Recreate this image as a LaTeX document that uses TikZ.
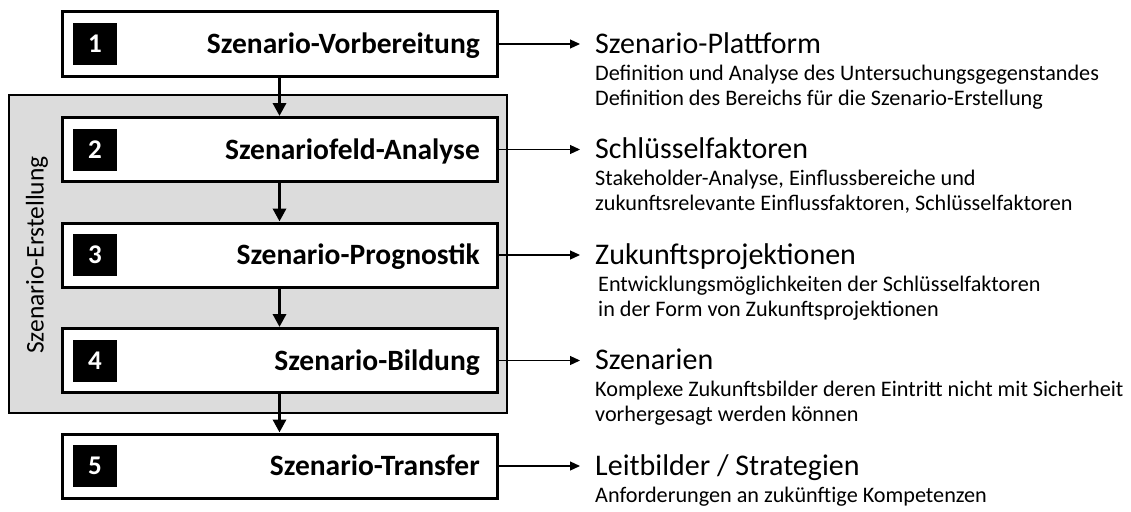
\documentclass[tikz,border=0pt]{standalone}
\usepackage{fontspec}
\setmainfont{Carlito}
\usetikzlibrary{arrows.meta}
\definecolor{panelgray}{HTML}{DCDCDC}
\tikzset{
  x=1pt, y=-1pt,
  stepbox/.style={draw=black, line width=3pt, fill=white, minimum width=435pt, minimum height=64pt, inner sep=0pt},
  numbox/.style={fill=black, text=white, minimum width=44pt, minimum height=42pt, inner sep=0pt,
    font=\fontsize{27}{30}\selectfont\bfseries},
  steptitle/.style={anchor=base east, inner sep=0pt, font=\fontsize{29.5}{34}\selectfont\bfseries},
  restitle/.style={anchor=base west, inner sep=0pt, font=\fontsize{30}{36}\selectfont},
  resline/.style={anchor=base west, inner sep=0pt, font=\fontsize{22.2}{25}\selectfont},
  flow/.style={line width=3.5pt, -{Triangle[length=13pt,width=13pt]}},
  outarrow/.style={line width=1.2pt, -{Triangle[length=10pt,width=9pt]}, shorten >=15pt},
}
\begin{document}
\begin{tikzpicture}
\useasboundingbox (0,0) rectangle (1131,511);

% grey panel grouping steps 2-4
\draw[fill=panelgray, line width=2.5pt] (9,95) rectangle (507,413);
\node[rotate=90, inner sep=0pt, font=\fontsize{25.5}{30}\selectfont] (panellabel) at (37,255) {Szenario-Erstellung};

% step boxes
\node[stepbox] (b1) at (279.5,44) {};
\node[stepbox] (b2) at (279.5,149.5) {};
\node[stepbox] (b3) at (279.5,255) {};
\node[stepbox] (b4) at (279.5,360.5) {};
\node[stepbox] (b5) at (279.5,466) {};

\node[numbox] (n1) at (95,44) {1};
\node[numbox] (n2) at (95,149.5) {2};
\node[numbox] (n3) at (95,255) {3};
\node[numbox] (n4) at (95,360.5) {4};
\node[numbox] (n5) at (95,466) {5};

\node[steptitle] (s1) at (480,53.5) {Szenario-Vorbereitung};
\node[steptitle] (s2) at (480,159) {Szenariofeld-Analyse};
\node[steptitle] (s3) at (480,264.5) {Szenario-Prognostik};
\node[steptitle] (s4) at (480,370) {Szenario-Bildung};
\node[steptitle] (s5) at (480,475.5) {Szenario-Transfer};

% vertical flow
\draw[flow] (b1.south) -- (b2.north);
\draw[flow] (b2.south) -- (b3.north);
\draw[flow] (b3.south) -- (b4.north);
\draw[flow] (b4.south) -- (b5.north);

% results of each step
\node[restitle] (r1) at (595,53) {Szenario-Plattform};
\node[resline] (r1a) at (595,80) {Definition und Analyse des Untersuchungsgegenstandes};
\node[resline] (r1b) at (595,105) {Definition des Bereichs für die Szenario-Erstellung};

\node[restitle] (r2) at (595,158.5) {Schlüsselfaktoren};
\node[resline] (r2a) at (595,185.5) {Stakeholder-Analyse, Einflussbereiche und};
\node[resline] (r2b) at (595,210.5) {zukunftsrelevante Einflussfaktoren, Schlüsselfaktoren};

\node[restitle] (r3) at (595,264) {Zukunftsprojektionen};
\node[resline] (r3a) at (598,291) {Entwicklungsmöglichkeiten der Schlüsselfaktoren};
\node[resline] (r3b) at (598,316) {in der Form von Zukunftsprojektionen};

\node[restitle] (r4) at (595,369.5) {Szenarien};
\node[resline] (r4a) at (595,396.5) {Komplexe Zukunftsbilder deren Eintritt nicht mit Sicherheit};
\node[resline] (r4b) at (595,421.5) {vorhergesagt werden können};

\node[restitle] (r5) at (595,475) {Leitbilder / Strategien};
\node[resline] (r5a) at (595,502) {Anforderungen an zukünftige Kompetenzen};

% connectors from steps to results
\draw[outarrow] (b1.east) -- (b1.east -| r1.west);
\draw[outarrow] (b2.east) -- (b2.east -| r2.west);
\draw[outarrow] (b3.east) -- (b3.east -| r3.west);
\draw[outarrow] (b4.east) -- (b4.east -| r4.west);
\draw[outarrow] (b5.east) -- (b5.east -| r5.west);
\end{tikzpicture}
\end{document}
